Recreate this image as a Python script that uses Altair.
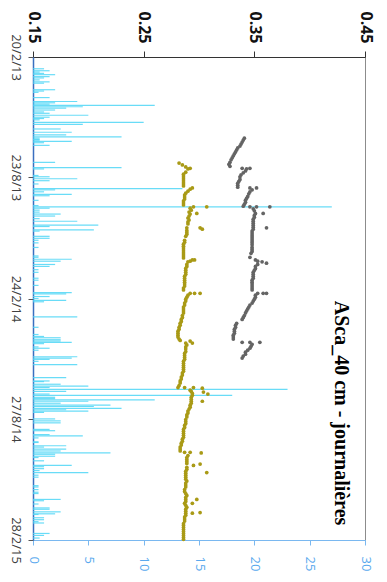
import altair as alt
import pandas as pd

# ---------------- data ----------------
START = "2013-02-20"
date_ticks = ["2013-02-20", "2013-08-23", "2014-02-24", "2014-08-27", "2015-02-28"]
moisture_ticks = [0.15, 0.25, 0.35, 0.45]
rain_ticks = [0, 5, 10, 15, 20, 25, 30]
title_text = "ASca_40 cm - journalières"

# daily rainfall events: (days after 20/2/13, mm)
rain_events = [
    (18, 1.0), (21, 1.5), (23, 0.6), (25, 1.0), (27, 2.0), (30, 1.5), (32, 1.0), (35, 0.6),
    (38, 1.5), (40, 1.0), (50, 2.0), (52, 1.0), (54, 0.5), (62, 1.5), (68, 4.0), (70, 2.0),
    (72, 1.5), (74, 11.0), (76, 4.5), (78, 3.0), (81, 2.0), (84, 1.0), (86, 1.5), (89, 5.0),
    (92, 1.5), (94, 1.0), (96, 0.6), (100, 10.0), (103, 4.5), (110, 2.5), (115, 3.5),
    (119, 3.0), (122, 8.0), (124, 0.6), (126, 0.6), (127, 0.6), (129, 3.5), (131, 1.0),
    (135, 1.5), (161, 2.0), (169, 8.0), (171, 1.0), (181, 0.5), (183, 1.5), (186, 4.0),
    (189, 1.5), (194, 0.5), (201, 13.5), (203, 2.0), (206, 1.0), (210, 3.5), (212, 1.5),
    (219, 0.5), (227, 0.5), (229, 27.0), (231, 1.5), (234, 0.6), (237, 0.6), (240, 2.5),
    (243, 2.0), (247, 0.6), (251, 4.0), (257, 5.9), (259, 1.5), (264, 5.5), (266, 0.6),
    (274, 1.5), (277, 1.5), (280, 0.5), (284, 0.5), (291, 0.5), (304, 0.5), (306, 0.5),
    (309, 3.5), (312, 2.5), (317, 2.0), (320, 1.5), (325, 0.5), (329, 0.5), (338, 0.5),
    (341, 0.5), (349, 0.5), (360, 3.5), (362, 3.0), (366, 1.5), (369, 0.5), (372, 3.0),
    (374, 1.0), (397, 4.0), (413, 0.5), (424, 0.5), (427, 1.0), (429, 2.5), (432, 2.5),
    (434, 2.5), (436, 3.5), (438, 1.0), (443, 0.5), (445, 1.5), (448, 0.5), (458, 4.0),
    (460, 3.5), (462, 1.5), (465, 0.5), (470, 4.0), (490, 3.0), (495, 1.5), (496, 1.0),
    (500, 2.5), (503, 5.0), (505, 1.5), (508, 23.0), (511, 3.0), (515, 1.5), (517, 18.0),
    (520, 2.0), (522, 2.0), (524, 11.0), (526, 5.0), (529, 2.5), (532, 7.0), (534, 5.5),
    (537, 8.0), (539, 3.0), (541, 5.0), (543, 1.0), (553, 2.0), (556, 2.5), (559, 2.5),
    (569, 1.5), (571, 2.0), (577, 1.5), (579, 4.5), (582, 0.5), (588, 0.5), (589, 0.5),
    (594, 3.0), (596, 1.0), (599, 3.0), (602, 2.5), (605, 7.0), (607, 2.0), (610, 2.0),
    (612, 0.5), (617, 1.0), (624, 3.5), (626, 1.0), (629, 1.0), (632, 0.6), (635, 5.0),
    (639, 0.5), (642, 0.5), (655, 0.5), (657, 0.5), (661, 0.5), (665, 0.5), (667, 0.5),
    (676, 2.5), (678, 1.0), (683, 0.5), (689, 1.5), (691, 1.5), (695, 2.5), (698, 2.0),
    (699, 0.5), (704, 1.0), (707, 1.0), (710, 0.5), (712, 1.0), (728, 1.5), (731, 1.0),
    (735, 0.6),
]

# soil moisture at 40 cm (olive series): (days after 20/2/13, m3/m3)
olive_points = [
    (162, 0.282), (165, 0.285), (168, 0.288), (170, 0.292), (171, 0.290), (176, 0.288),
    (179, 0.286), (182, 0.286), (185, 0.286), (188, 0.286), (191, 0.286), (194, 0.286),
    (197, 0.286), (200, 0.294), (202, 0.292), (205, 0.290), (208, 0.288), (211, 0.287),
    (214, 0.287), (217, 0.287), (220, 0.286), (223, 0.286), (226, 0.286), (229, 0.295),
    (229, 0.307), (231, 0.292), (234, 0.293), (237, 0.291), (239, 0.298), (240, 0.292),
    (243, 0.291), (246, 0.290), (249, 0.291), (252, 0.290), (255, 0.290), (261, 0.289),
    (261, 0.301), (263, 0.303), (265, 0.289), (268, 0.289), (271, 0.289), (274, 0.288),
    (280, 0.287), (283, 0.287), (286, 0.286), (289, 0.286), (292, 0.286), (295, 0.286),
    (298, 0.286), (301, 0.286), (304, 0.286), (307, 0.286), (310, 0.296), (310, 0.294),
    (312, 0.292), (313, 0.290), (317, 0.289), (320, 0.289), (323, 0.288), (326, 0.288),
    (329, 0.288), (332, 0.288), (335, 0.287), (338, 0.287), (341, 0.287), (344, 0.287),
    (347, 0.287), (350, 0.287), (353, 0.286), (356, 0.286), (361, 0.292), (361, 0.296),
    (361, 0.301), (364, 0.290), (367, 0.289), (370, 0.288), (373, 0.288), (376, 0.287),
    (379, 0.287), (382, 0.286), (385, 0.286), (388, 0.286), (391, 0.286), (395, 0.285),
    (398, 0.285), (401, 0.284), (404, 0.284), (407, 0.283), (410, 0.283), (413, 0.282),
    (416, 0.282), (419, 0.281), (422, 0.281), (425, 0.281), (428, 0.281), (431, 0.282),
    (433, 0.283), (434, 0.292), (437, 0.288), (437, 0.294), (440, 0.289), (443, 0.288),
    (446, 0.288), (450, 0.288), (453, 0.287), (456, 0.287), (459, 0.287), (462, 0.287),
    (465, 0.286), (468, 0.286), (471, 0.286), (474, 0.286), (477, 0.286), (480, 0.286),
    (483, 0.285), (486, 0.285), (489, 0.284), (492, 0.284), (495, 0.283), (498, 0.283),
    (502, 0.282), (505, 0.281), (505, 0.287), (505, 0.295), (506, 0.303), (509, 0.292),
    (511, 0.293), (512, 0.304), (514, 0.294), (515, 0.308), (517, 0.294), (520, 0.293),
    (523, 0.293), (526, 0.293), (526, 0.303), (529, 0.293), (532, 0.292), (535, 0.292),
    (538, 0.291), (541, 0.290), (544, 0.290), (547, 0.289), (550, 0.289), (554, 0.288),
    (557, 0.288), (560, 0.288), (563, 0.287), (566, 0.287), (569, 0.286), (572, 0.286),
    (575, 0.286), (578, 0.286), (581, 0.286), (584, 0.285), (587, 0.285), (590, 0.284),
    (593, 0.284), (596, 0.283), (599, 0.283), (602, 0.283), (604, 0.287), (604, 0.292),
    (605, 0.302), (609, 0.290), (612, 0.289), (615, 0.289), (618, 0.289), (621, 0.289),
    (622, 0.301), (624, 0.295), (627, 0.289), (630, 0.289), (633, 0.288), (635, 0.307),
    (636, 0.288), (639, 0.288), (642, 0.288), (645, 0.288), (648, 0.289), (651, 0.288),
    (654, 0.288), (657, 0.288), (661, 0.287), (664, 0.287), (667, 0.288), (670, 0.289),
    (673, 0.288), (676, 0.288), (676, 0.298), (679, 0.288), (682, 0.287), (682, 0.294),
    (685, 0.288), (688, 0.289), (691, 0.288), (694, 0.288), (696, 0.301), (697, 0.288),
    (697, 0.294), (700, 0.288), (703, 0.287), (706, 0.287), (709, 0.287), (713, 0.286),
    (716, 0.286), (719, 0.286), (722, 0.286), (725, 0.286), (728, 0.286), (731, 0.286),
    (734, 0.286), (737, 0.286),
]

# second moisture series (grey)
gray_points = [
    (124, 0.341), (127, 0.340), (130, 0.339), (133, 0.338), (136, 0.337), (139, 0.335),
    (142, 0.334), (145, 0.333), (148, 0.332), (151, 0.331), (154, 0.330), (157, 0.329),
    (161, 0.328), (164, 0.327), (167, 0.328), (170, 0.339), (170, 0.346), (171, 0.343),
    (174, 0.342), (177, 0.340), (180, 0.338), (183, 0.337), (187, 0.337), (190, 0.336),
    (193, 0.335), (196, 0.335), (199, 0.335), (200, 0.346), (200, 0.352), (203, 0.348),
    (206, 0.346), (209, 0.345), (213, 0.344), (216, 0.343), (219, 0.342), (222, 0.342),
    (225, 0.341), (228, 0.340), (229, 0.346), (229, 0.352), (229, 0.364), (232, 0.349),
    (235, 0.350), (239, 0.351), (239, 0.358), (242, 0.350), (245, 0.350), (248, 0.349),
    (251, 0.349), (254, 0.349), (257, 0.349), (260, 0.349), (261, 0.361), (263, 0.349),
    (266, 0.348), (269, 0.348), (272, 0.348), (275, 0.348), (278, 0.348), (281, 0.348),
    (284, 0.348), (287, 0.348), (291, 0.348), (294, 0.348), (297, 0.348), (300, 0.347),
    (306, 0.346), (310, 0.351), (312, 0.353), (313, 0.357), (315, 0.361), (317, 0.353),
    (320, 0.351), (323, 0.351), (326, 0.350), (329, 0.349), (332, 0.349), (335, 0.349),
    (338, 0.349), (341, 0.348), (344, 0.348), (347, 0.348), (350, 0.348), (353, 0.348),
    (356, 0.348), (361, 0.353), (361, 0.358), (361, 0.361), (364, 0.351), (367, 0.351),
    (370, 0.350), (373, 0.349), (376, 0.348), (379, 0.346), (382, 0.345), (385, 0.344),
    (388, 0.343), (391, 0.342), (395, 0.341), (398, 0.340), (401, 0.339), (407, 0.334),
    (410, 0.333), (413, 0.333), (416, 0.332), (419, 0.332), (422, 0.332), (425, 0.331),
    (428, 0.331), (431, 0.331), (436, 0.339), (436, 0.346), (436, 0.355), (439, 0.348),
    (442, 0.347), (445, 0.346), (448, 0.344), (451, 0.342), (454, 0.342), (457, 0.340),
    (460, 0.339),
]

# ---------------- tables ----------------
start = pd.Timestamp(START)


def day_to_str(d):
    return (start + pd.Timedelta(days=int(d))).strftime("%Y-%m-%d")


def ms(s):
    return int(pd.Timestamp(s).value // 10**6)


rain_df = pd.DataFrame({
    "date": [day_to_str(d) for d, _ in rain_events],
    "mm": [v for _, v in rain_events],
})
sm_df = pd.DataFrame({
    "date": [day_to_str(d) for d, _ in olive_points] + [day_to_str(d) for d, _ in gray_points],
    "val": [v for _, v in olive_points] + [v for _, v in gray_points],
    "serie": ["olive"] * len(olive_points) + ["gray"] * len(gray_points),
})

ydom = [ms(date_ticks[0]), ms(date_ticks[-1])]
yvals = [ms(d) for d in date_ticks]

yaxis = alt.Axis(
    orient="left", values=yvals, labelExpr="utcFormat(datum.value, '%-d/%-m/%y')",
    labelAngle=90, labelAlign="center", labelBaseline="top", labelFlush=False,
    labelOverlap=False, labelFont="Open Sans", labelFontSize=13, labelColor="#404040",
    tickColor="#555555", tickSize=5, domainColor="#3B6FC0", domainWidth=1.5,
    labelPadding=7, title=None, grid=False,
)
yenc = alt.Y("date:T", scale=alt.Scale(type="utc", domain=ydom, reverse=True), axis=yaxis)

rain = alt.Chart(rain_df).mark_rule(color="#4FD6F6", strokeWidth=1.2, opacity=0.85).encode(
    y=yenc,
    x=alt.X(
        "mm:Q",
        scale=alt.Scale(domain=[0, 30], nice=False, zero=True),
        axis=alt.Axis(
            orient="bottom", values=rain_ticks, labelAngle=90, labelAlign="left",
            labelBaseline="middle", labelFlush=False, labelOverlap=False,
            labelFont="Open Sans", labelFontSize=13, labelColor="#5AA9EE",
            tickColor="#7AB8F0", tickSize=5, domainColor="#7AB8F0", domainWidth=1.2,
            labelPadding=11, title=None, grid=False,
        ),
    ),
    x2=alt.datum(0),
)

points = alt.Chart(sm_df).mark_circle(size=14, opacity=1).encode(
    y=yenc,
    x=alt.X(
        "val:Q",
        scale=alt.Scale(domain=[0.15, 0.45], nice=False, zero=False),
        axis=alt.Axis(
            orient="top", values=moisture_ticks, format=".2f", labelAngle=90,
            labelAlign="right", labelBaseline="middle", labelFlush=False,
            labelOverlap=False, labelFont="Open Sans", labelFontSize=16,
            labelFontWeight="bold", labelColor="#111111", tickColor="#333333",
            tickSize=6, domainColor="#333333", domainWidth=1.2, labelPadding=8,
            title=None, grid=False,
        ),
    ),
    color=alt.Color(
        "serie:N",
        scale=alt.Scale(domain=["olive", "gray"], range=["#A99A16", "#646464"]),
        legend=None,
    ),
)

title = alt.Chart(pd.DataFrame({"t": [title_text]})).mark_text(
    angle=90, align="center", baseline="middle", font="Liberation Serif",
    fontWeight="bold", fontSize=20, color="#000000",
).encode(text="t:N", x=alt.value(308), y=alt.value(356))

chart = (
    alt.layer(rain, points, title)
    .resolve_scale(x="independent")
    .resolve_axis(x="independent")
    .properties(
        width=332, height=483,
        autosize=alt.AutoSizeParams(type="none"),
        padding={"left": 25, "top": 49, "right": 12, "bottom": 36},
    )
    .configure_view(stroke="#8C8C8C", strokeWidth=1)
)

chart.save("out.html", embed_options={"renderer": "svg", "actions": False})
